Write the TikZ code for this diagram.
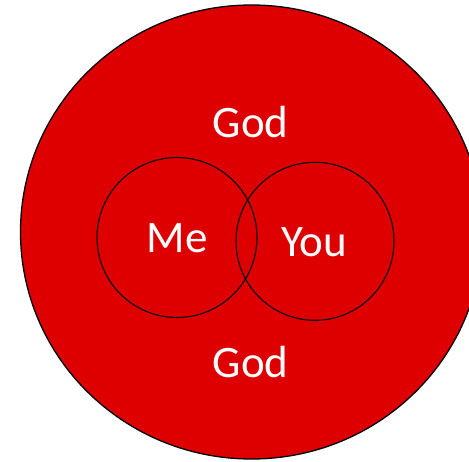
\documentclass[tikz,border=0pt]{standalone}
\usepackage{fontspec}
\setmainfont{Carlito}
\definecolor{godred}{RGB}{222,0,0}
\begin{document}
\begin{tikzpicture}[x=1pt,y=-1pt,
  lbl/.style={text=white,font=\fontsize{45}{54}\selectfont,inner sep=0pt,anchor=base},
  ring/.style={draw=black,line width=1.1pt}]
\useasboundingbox (0,0) rectangle (469,462);
\begin{scope}
\clip (0,0) rectangle (469,462);
\draw[fill=godred,draw=black,line width=1.3pt] (251.5,232) ellipse [x radius=231,y radius=227];
\end{scope}
\node[ring,circle,minimum size=160pt,inner sep=0pt] (me) at (177,237.5) {};
\node[ring,circle,minimum size=158pt,inner sep=0pt] (you) at (315,241.3) {};
\node[lbl] (god1) at (250.5,138) {God};
\node[lbl] (god2) at (250.5,378) {God};
\node[lbl] (metext) at (177,253) {Me};
\node[lbl] (youtext) at (314,257) {You};
\end{tikzpicture}
\end{document}
